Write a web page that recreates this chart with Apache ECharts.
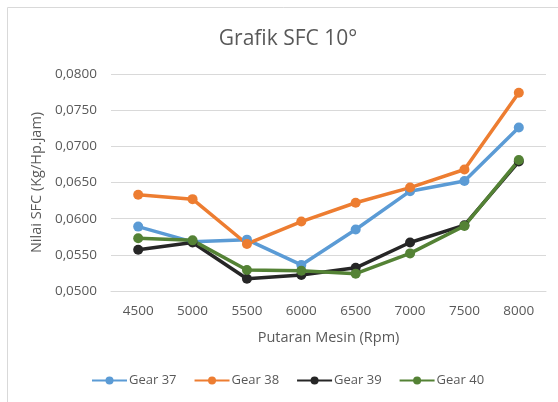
<!DOCTYPE html>
<html><head><meta charset="utf-8">
<script src="https://cdn.jsdelivr.net/npm/echarts@6/dist/echarts.min.js"></script>
<style>html,body{margin:0;padding:0;background:#fff}#c{width:558px;height:402px}</style>
</head><body><div id="c"></div>
<script>
const categories = ['4500','5000','5500','6000','6500','7000','7500','8000'];
const gear37 = [0.0589,0.0568,0.0571,0.0536,0.0585,0.0638,0.0652,0.0726];
const gear38 = [0.0633,0.0627,0.0565,0.0596,0.0622,0.0643,0.0668,0.0774];
const gear39 = [0.0557,0.0567,0.0517,0.0522,0.0532,0.0567,0.0591,0.0679];
const gear40 = [0.0573,0.0570,0.0529,0.0528,0.0524,0.0552,0.0590,0.0681];
const seriesNames = ['Gear 37','Gear 38','Gear 39','Gear 40'];
const colors = ['#5B9BD5','#ED7D31','#262626','#548235'];
const font = 'Open Sans, Noto Sans, sans-serif';
const chart = echarts.init(document.getElementById('c'));
const mk = (name, data, color) => ({
  name, type:'line', data, color, symbol:'circle', symbolSize:10,
  lineStyle:{width:3.5, color}, itemStyle:{color}, emphasis:{disabled:true}
});
chart.setOption({
  animation:false,
  graphic:[{type:'rect', shape:{x:7.5,y:7.5,width:600,height:500}, style:{fill:'none',stroke:'#d9d9d9',lineWidth:1}, silent:true}],
  title:{text:'Grafik SFC 10°', left:283, top:24, textAlign:'center',
    textStyle:{fontFamily:font, fontSize:21, fontWeight:'normal', color:'#595959'}},
  legend:{bottom:15, left:91, padding:0, itemWidth:35, itemHeight:10, itemGap:17,
    data:seriesNames,
    textStyle:{fontFamily:font, fontSize:13, color:'#595959', padding:[0,0,0,-3]}},
  grid:{left:111, right:12, top:74, bottom:111, containLabel:false},
  xAxis:{type:'category', data:categories, boundaryGap:true,
    name:'Putaran Mesin (Rpm)', nameLocation:'middle', nameGap:39,
    nameTextStyle:{fontFamily:font, fontSize:14.5, color:'#595959'},
    axisLine:{show:true, lineStyle:{color:'#d9d9d9'}}, axisTick:{show:false},
    axisLabel:{fontFamily:font, fontSize:13.5, color:'#595959', margin:13}},
  yAxis:{type:'value', min:0.05, max:0.08, interval:0.005,
    name:'Nilai SFC (Kg/Hp.jam)', nameLocation:'middle', nameGap:58,
    nameTextStyle:{fontFamily:font, fontSize:14.5, color:'#595959'},
    axisLine:{show:false}, axisTick:{show:false},
    splitLine:{lineStyle:{color:'#d9d9d9', width:1}},
    axisLabel:{fontFamily:font, fontSize:13.5, color:'#595959', margin:14,
      formatter:v=>v.toFixed(4).replace('.',',')}},
  series:[mk(seriesNames[0],gear37,colors[0]),mk(seriesNames[1],gear38,colors[1]),
          mk(seriesNames[2],gear39,colors[2]),mk(seriesNames[3],gear40,colors[3])]
});
</script></body></html>
